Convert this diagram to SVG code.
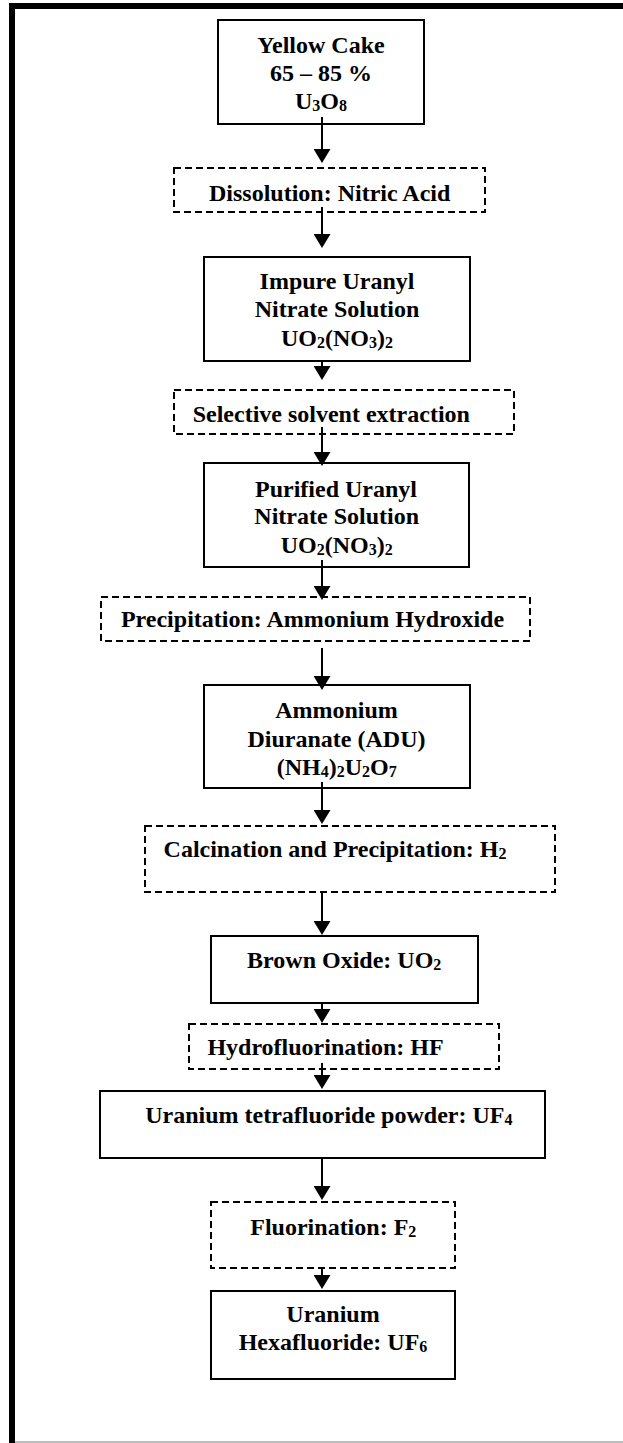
<svg xmlns="http://www.w3.org/2000/svg" width="623" height="1443" viewBox="0 0 623 1443">
<style>
text{font-family:"Liberation Serif","Times New Roman",serif;font-weight:bold;font-size:24px;fill:#000;text-anchor:middle}
.sub{font-size:16px}
.solid{fill:#fff;stroke:#000;stroke-width:2}
.dash{fill:#fff;stroke:#000;stroke-width:2;stroke-dasharray:7 4}
.conn{stroke:#000;stroke-width:2;fill:none;marker-end:url(#ah)}
</style>
<defs>
<marker id="ah" markerUnits="userSpaceOnUse" markerWidth="14" markerHeight="17" viewBox="0 0 14 17" refX="10" refY="8.5" orient="auto">
<path d="M0,0 L14,8.5 L0,17 Z" fill="#000"/>
</marker>
</defs>
<rect x="0" y="0" width="623" height="1443" fill="#fff"/>
<g id="frame">
<rect x="9" y="3" width="614" height="6" fill="#000"/>
<rect x="9" y="3" width="6" height="1440" fill="#000"/>
<rect x="15" y="1441" width="608" height="2" fill="#bdbdbd"/>
</g>
<g id="n1"><rect class="solid" x="218" y="20" width="206" height="104"/>
<text x="321" y="53">Yellow Cake</text><text x="321" y="81">65 – 85 %</text>
<text x="321" y="109">U<tspan class="sub" dy="2">3</tspan><tspan dy="-2">O</tspan><tspan class="sub" dy="2">8</tspan></text></g>
<g id="n2"><rect class="dash" x="174" y="168" width="311" height="44"/>
<text x="329.7" y="201">Dissolution: Nitric Acid</text></g>
<g id="n3"><rect class="solid" x="204" y="257" width="266" height="104"/>
<text x="337" y="289">Impure Uranyl</text><text x="337" y="317">Nitrate Solution</text>
<text x="337" y="346">UO<tspan class="sub" dy="2">2</tspan><tspan dy="-2">(NO</tspan><tspan class="sub" dy="2">3</tspan><tspan dy="-2">)</tspan><tspan class="sub" dy="2">2</tspan></text></g>
<g id="n4"><rect class="dash" x="174" y="390" width="340" height="44"/>
<text x="331.3" y="422">Selective solvent extraction</text></g>
<g id="n5"><rect class="solid" x="204" y="463" width="265" height="104"/>
<text x="336" y="497">Purified Uranyl</text><text x="336.7" y="524">Nitrate Solution</text>
<text x="336.7" y="553">UO<tspan class="sub" dy="2">2</tspan><tspan dy="-2">(NO</tspan><tspan class="sub" dy="2">3</tspan><tspan dy="-2">)</tspan><tspan class="sub" dy="2">2</tspan></text></g>
<g id="n6"><rect class="dash" x="101" y="597" width="429" height="44"/>
<text x="312.5" y="627">Precipitation: Ammonium Hydroxide</text></g>
<g id="n7"><rect class="solid" x="204" y="685" width="266" height="103"/>
<text x="336.5" y="718">Ammonium</text><text x="336.5" y="747">Diuranate (ADU)</text>
<text x="336.7" y="775">(NH<tspan class="sub" dy="2">4</tspan><tspan dy="-2">)</tspan><tspan class="sub" dy="2">2</tspan><tspan dy="-2">U</tspan><tspan class="sub" dy="2">2</tspan><tspan dy="-2">O</tspan><tspan class="sub" dy="2">7</tspan></text></g>
<g id="n8"><rect class="dash" x="145" y="826" width="410" height="66"/>
<text x="335" y="857">Calcination and Precipitation: H<tspan class="sub" dy="2">2</tspan></text></g>
<g id="n9"><rect class="solid" x="211" y="936" width="267" height="67"/>
<text x="344.2" y="968">Brown Oxide: UO<tspan class="sub" dy="2">2</tspan></text></g>
<g id="n10"><rect class="dash" x="189" y="1024" width="310" height="45"/>
<text x="325.5" y="1055">Hydrofluorination: HF</text></g>
<g id="n11"><rect class="solid" x="100" y="1091" width="445" height="67"/>
<text x="328.8" y="1123">Uranium tetrafluoride powder: UF<tspan class="sub" dy="2">4</tspan></text></g>
<g id="n12"><rect class="dash" x="211" y="1202" width="244" height="66"/>
<text x="333.3" y="1235">Fluorination: F<tspan class="sub" dy="2">2</tspan></text></g>
<g id="n13"><rect class="solid" x="211" y="1291" width="244" height="88"/>
<text x="333" y="1322">Uranium</text>
<text x="333" y="1350">Hexafluoride: UF<tspan class="sub" dy="2">6</tspan></text></g>
<g id="connectors">
<line class="conn" x1="322" y1="117" x2="322" y2="159"/>
<line class="conn" x1="322" y1="207" x2="322" y2="244"/>
<line class="conn" x1="322" y1="361" x2="322" y2="376"/>
<line class="conn" x1="322" y1="427" x2="322" y2="462"/>
<line class="conn" x1="322" y1="560" x2="322" y2="596"/>
<line class="conn" x1="322" y1="648" x2="322" y2="686"/>
<line class="conn" x1="322" y1="782" x2="322" y2="820"/>
<line class="conn" x1="322" y1="892" x2="322" y2="931"/>
<line class="conn" x1="322" y1="1003" x2="322" y2="1019"/>
<line class="conn" x1="322" y1="1063" x2="322" y2="1085"/>
<line class="conn" x1="322" y1="1158" x2="322" y2="1196"/>
<line class="conn" x1="322" y1="1268" x2="322" y2="1285"/>
</g>
</svg>
